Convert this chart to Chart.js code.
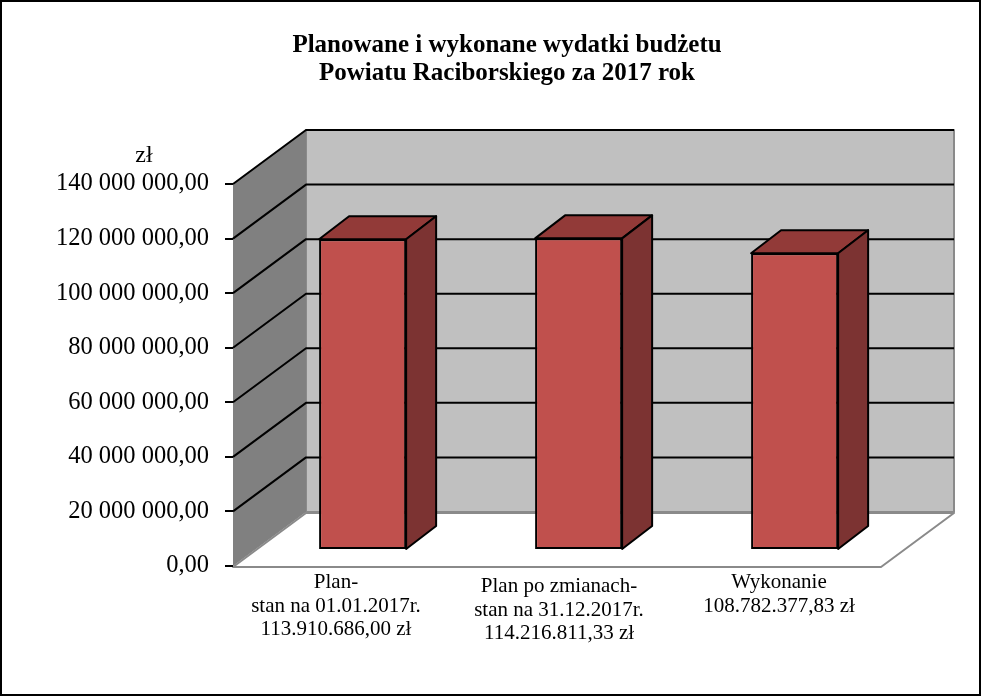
<!DOCTYPE html>
<html>
<head>
<meta charset="utf-8">
<title>Wydatki budżetu</title>
<script src="https://cdn.jsdelivr.net/npm/chart.js@4"></script>
<style>
    html, body { margin: 0; padding: 0; background: #fff; }
    #wrap { position: relative; width: 981px; height: 696px; overflow: hidden; }
    canvas { display: block; }
</style>
</head>
<body>
<div id="wrap"><canvas id="chart" width="981" height="696"></canvas></div>
<script>
// Chart data
const titleLines = ['Planowane i wykonane wydatki budżetu', 'Powiatu Raciborskiego za 2017 rok'];
const unitLabel = 'zł';
const categories = ['Plan', 'Plan po zmianach', 'Wykonanie'];
const categoryLabels = [
    ['Plan-', 'stan na 01.01.2017r.', '113.910.686,00 zł'],
    ['Plan po zmianach-', 'stan na 31.12.2017r.', '114.216.811,33 zł'],
    ['Wykonanie', '108.782.377,83 zł']
];
const values = [113910686.00, 114216811.33, 108782377.83];
const yMax = 140000000;
const yStep = 20000000;

// Layout of the fake 3D box
const wallDx = 73, wallDy = -54;     // front plane -> back wall
const barDx = 21.6, barDy = -16;     // front plane -> front of the bars
const depthDx = 30, depthDy = -23;   // front of bar -> back of bar
const labelShift = [{ x: -5, y: 588 }, { x: 2, y: 592 }, { x: 6, y: 588 }];

const serif = '"Liberation Serif", serif';

function poly(ctx, pts, fill, stroke, lw) {
    ctx.beginPath();
    pts.forEach((p, i) => i ? ctx.lineTo(p[0], p[1]) : ctx.moveTo(p[0], p[1]));
    ctx.closePath();
    if (fill) { ctx.fillStyle = fill; ctx.fill(); }
    if (stroke) { ctx.strokeStyle = stroke; ctx.lineWidth = lw; ctx.lineJoin = 'round'; ctx.stroke(); }
}

const box3d = {
    id: 'box3d',
    beforeDraw(chart) {
        const { ctx, chartArea: a, scales: { y } } = chart;
        ctx.save();
        // floor
        poly(ctx, [[a.left, a.bottom + 1], [a.right, a.bottom + 1], [a.right + wallDx, a.bottom + 1 + wallDy], [a.left + wallDx, a.bottom + 1 + wallDy]], '#fff', '#8a8a8a', 2);
        // back wall
        poly(ctx, [[a.left + wallDx, a.top + wallDy], [a.right + wallDx, a.top + wallDy], [a.right + wallDx, a.bottom + wallDy], [a.left + wallDx, a.bottom + wallDy]], '#c0c0c0', '#8a8a8a', 2);
        // left wall
        poly(ctx, [[a.left, a.top], [a.left + wallDx, a.top + wallDy], [a.left + wallDx, a.bottom + wallDy], [a.left, a.bottom]], '#808080');
        // grid lines, one per tick, along the left wall and the back wall
        ctx.strokeStyle = '#000';
        ctx.lineWidth = 2;
        y.ticks.forEach(t => {
            if (t.value === 0) return;
            const py = y.getPixelForValue(t.value);
            ctx.beginPath();
            ctx.moveTo(a.left, py);
            ctx.lineTo(a.left + wallDx, py + wallDy);
            ctx.lineTo(a.right + wallDx, py + wallDy);
            ctx.stroke();
        });
        ctx.restore();
    },
    beforeDatasetDraw(chart, args) {
        const { ctx } = chart;
        ctx.save();
        ctx.translate(barDx, barDy);
        chart.getDatasetMeta(args.index).data.forEach(bar => {
            const l = bar.x - bar.width / 2, r = bar.x + bar.width / 2;
            poly(ctx, [[l, bar.y], [r, bar.y], [r + depthDx, bar.y + depthDy], [l + depthDx, bar.y + depthDy]], '#923a38', '#000', 2);
            poly(ctx, [[r, bar.y], [r + depthDx, bar.y + depthDy], [r + depthDx, bar.base + depthDy], [r, bar.base]], '#7c3332', '#000', 2);
        });
    },
    afterDatasetDraw(chart) {
        chart.ctx.restore();
    },
    afterDraw(chart) {
        const { ctx, scales: { x } } = chart;
        ctx.save();
        ctx.fillStyle = '#000';
        ctx.textAlign = 'center';
        ctx.textBaseline = 'alphabetic';
        // title
        ctx.font = 'bold 25px ' + serif;
        titleLines.forEach((line, i) => ctx.fillText(line, 507, 52 + i * 28));
        // unit above the axis
        ctx.font = '24px ' + serif;
        ctx.fillText(unitLabel, 144, 162);
        // category labels sit a bit unevenly in the original
        ctx.font = '21px ' + serif;
        categoryLabels.forEach((lines, i) => {
            const cx = x.getPixelForValue(i) + labelShift[i].x;
            lines.forEach((line, j) => ctx.fillText(line, cx, labelShift[i].y + j * 23.7));
        });
        // outer frame
        ctx.strokeStyle = '#000';
        ctx.lineWidth = 2;
        ctx.strokeRect(1, 1, chart.width - 2, chart.height - 2);
        ctx.restore();
    }
};

new Chart(document.getElementById('chart'), {
    type: 'bar',
    data: {
        labels: categories,
        datasets: [{
            data: values,
            backgroundColor: '#c0504d',
            borderColor: '#000',
            borderWidth: 2,
            borderSkipped: false,
            barPercentage: 0.403,
            categoryPercentage: 1
        }]
    },
    options: {
        responsive: false,
        animation: false,
        events: [],
        devicePixelRatio: 1,
        layout: { padding: { top: 184, right: 100, left: 0, bottom: 0 } },
        plugins: { legend: { display: false }, title: { display: false }, tooltip: { enabled: false } },
        scales: {
            x: {
                grid: { display: false },
                border: { display: false },
                ticks: { display: false },
                afterFit(scale) { scale.height = 130; }
            },
            y: {
                min: 0,
                max: yMax,
                afterFit(scale) { scale.width = 233; },
                border: { display: false },
                grid: { drawOnChartArea: false, drawTicks: true, tickLength: 8, color: '#000', lineWidth: 2 },
                ticks: {
                    stepSize: yStep,
                    padding: 16,
                    color: '#000',
                    font: { family: serif, size: 24.5 },
                    callback: v => v === 0 ? '0,00' : String(v).replace(/\B(?=(\d{3})+$)/g, ' ') + ',00'
                }
            }
        }
    },
    plugins: [box3d]
});
</script>
</body>
</html>
